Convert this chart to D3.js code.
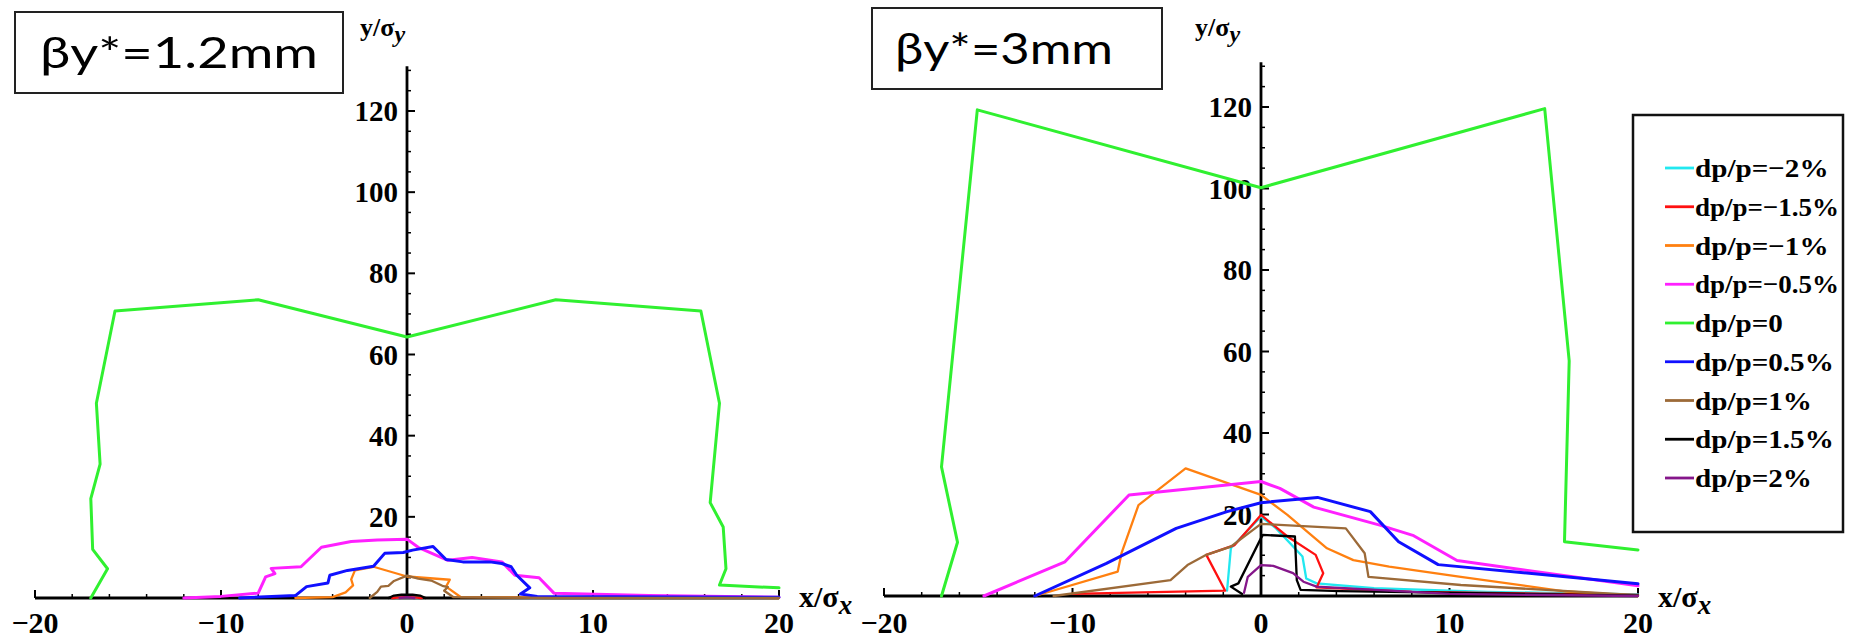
<!DOCTYPE html>
<html>
<head>
<meta charset="utf-8">
<script src="https://cdn.jsdelivr.net/npm/d3@7"></script>
<style>
  html, body { margin: 0; padding: 0; background: #fff; }
  svg { display: block; }
</style>
</head>
<body>
<svg id="chart" width="1852" height="643"></svg>
<script>
// ---------------- DATA ----------------
const xTickValues = [-20, -10, 0, 10, 20];
const yTickValues = [20, 40, 60, 80, 100, 120];
const seriesNames = ["dp/p=\u22122%", "dp/p=\u22121.5%", "dp/p=\u22121%", "dp/p=\u22120.5%", "dp/p=0",
                     "dp/p=0.5%", "dp/p=1%", "dp/p=1.5%", "dp/p=2%"];
const seriesColors = ["#22e8f0", "#ff1010", "#ff8010", "#ff20ff", "#30f030",
                      "#1010ff", "#9c6a38", "#000000", "#85168a"];
const panelTitles = ["\u03b2y*=1.2mm", "\u03b2y*=3mm"];

// Panel A : beta_y* = 1.2 mm   (points [x/sigma_x, y/sigma_y])
const a_m2 = [[-0.6, 0], [0, 0.2], [0.6, 0]];
const a_m15 = [[-0.8, 0], [0, 0.3], [0.8, 0]];
const a_m1 = [[-6, 0], [-4.0, 0.2], [-3.3, 1.4], [-2.9, 3.1], [-3.0, 4.6], [-2.8, 6.8], [-1.8, 7.7],
              [0, 5.3], [2.3, 4.5], [2.1, 2.8], [2.9, 0.2], [8, 0.1], [20, 0]];
const a_m05 = [[-12, 0], [-10, 0.4], [-8.0, 1.2], [-7.6, 5.2], [-7.1, 6.0], [-7.3, 7.3], [-5.7, 7.7],
               [-4.6, 12.5], [-3.0, 13.9], [-1.6, 14.3], [0, 14.5], [0.6, 12.5], [2.2, 9.3],
               [3.5, 10.0], [5.1, 8.9], [5.8, 5.6], [7.1, 5.0], [7.9, 1.2], [13, 0.6], [20, 0.2]];
const a_0 = [[-17.0, 0], [-16.1, 7.2], [-16.9, 12], [-17.0, 24.5], [-16.5, 33], [-16.7, 48],
             [-15.7, 70.7], [-8.0, 73.5], [0, 64.3], [8.0, 73.5], [15.8, 70.7], [16.8, 48],
             [16.3, 23.5], [17.0, 17.5], [17.15, 7.2], [16.8, 3.2], [20, 2.5]];
const a_p05 = [[-9, 0], [-6.0, 0.6], [-5.4, 2.8], [-4.25, 3.7], [-4.15, 5.6], [-3.2, 6.8], [-1.8, 7.8],
               [-1.2, 11.0], [-0.2, 11.2], [0.3, 11.8], [1.4, 12.7], [2.1, 9.5], [3.0, 8.9],
               [4.45, 8.9], [5.1, 8.5], [5.6, 7.7], [5.9, 5.6], [6.6, 2.5], [6.1, 1.0], [7, 0.4], [20, 0.2]];
const a_p1 = [[-2.0, 0], [-1.6, 1.5], [-1.4, 2.8], [-1.0, 3.0], [-0.7, 4.2], [0, 5.5], [0.6, 4.8],
              [1.3, 4.3], [1.9, 3.0], [2.2, 2.7], [2.0, 1.8], [2.5, 0.2], [8, 0], [20, 0]];
const a_p15 = [[-1.0, 0], [-0.7, 0.6], [-0.3, 0.8], [0.3, 0.8], [0.7, 0.6], [1.0, 0]];
const a_p2 = [[-0.4, 0], [0, 0.2], [0.4, 0]];

// Panel B : beta_y* = 3 mm
const b_m2 = [[-1.8, 1.3], [-1.6, 11.7], [0, 19.5], [0.8, 16.6], [2.2, 9.7], [2.4, 4.3], [2.95, 3.1],
              [6.0, 1.9], [12, 1.0], [20, 0.4]];
const b_m15 = [[-10, 0.5], [-1.9, 1.3], [-2.9, 10.1], [-1.4, 12.5], [0, 19.9], [1.4, 14.6], [2.9, 10.1],
               [3.3, 5.6], [2.95, 2.1], [8, 1.0], [20, 0.3]];
const b_m1 = [[-12, 0], [-7.6, 6.0], [-7.4, 10.5], [-6.5, 22.3], [-4.0, 31.3], [0, 24.8], [1.4, 19.9],
              [3.5, 11.7], [4.9, 8.8], [6.8, 7.2], [10.6, 4.7], [16.2, 1.1], [20, 0]];
const b_m05 = [[-14.7, 0], [-10.4, 8.4], [-7.0, 24.8], [0, 28.1], [1.0, 26.4], [2.8, 21.8], [6.3, 17.4],
               [8.1, 14.8], [10.4, 8.7], [20, 2.5]];
const b_0 = [[-16.95, 0], [-16.1, 13.2], [-16.95, 31.7], [-15.05, 119.3], [0, 100.2], [15.05, 119.6],
             [16.35, 57.7], [16.1, 13.3], [20, 11.3]];
const b_p05 = [[-12.0, 0], [-8.2, 8.0], [-4.5, 16.6], [-1.8, 20.7], [0, 22.9], [3.0, 24.2], [5.8, 20.7],
               [7.3, 13.3], [9.4, 7.7], [20, 3.0]];
const b_p1 = [[-11, 0], [-4.8, 3.9], [-3.9, 7.6], [-2.9, 10.1], [-1.6, 12.1], [0, 17.7], [4.5, 16.6],
              [5.5, 10.5], [5.7, 4.7], [10.6, 2.7], [20, 0.2]];
const b_p15 = [[-1.0, 0.5], [-1.6, 2.3], [-1.2, 3.1], [0, 14.2], [0.1, 15.0], [1.8, 14.6], [1.9, 3.9],
               [2.1, 1.5], [4.2, 1.2], [20, 0.1]];
const b_p2 = [[-0.9, 0.8], [-0.7, 4.7], [0, 7.6], [0.65, 7.4], [1.7, 5.6], [2.25, 3.5], [2.95, 2.3],
              [10, 0.5], [20, 0]];

const panelASeries = [a_m2, a_m15, a_m1, a_m05, a_0, a_p05, a_p1, a_p15, a_p2];
const panelBSeries = [b_m2, b_m15, b_m1, b_m05, b_0, b_p05, b_p1, b_p15, b_p2];

// ---------------- LAYOUT ----------------
const svg = d3.select("#chart");
const serif = "'Liberation Serif', 'DejaVu Serif', serif";
const yMax = 131;
const thick = [false, false, false, true, true, true, false, false, false];

const panels = [
  { series: panelASeries, x0: 35, x1: 779, yBase: 598, y120: 111,
    title: panelTitles[0], box: [15, 12, 328, 81], titleX: 40, titleW: 278, titleBase: 68,
    yLabX: 360 },
  { series: panelBSeries, x0: 884, x1: 1638, yBase: 596, y120: 107,
    title: panelTitles[1], box: [872, 8, 290, 81], titleX: 895, titleW: 218, titleBase: 64,
    yLabX: 1195 }
];

panels.forEach(p => {
  const x = d3.scaleLinear().domain([-20, 20]).range([p.x0, p.x1]);
  const y = d3.scaleLinear().domain([0, 120]).range([p.yBase, p.y120]);
  const g = svg.append("g");

  // x axis line and ticks
  g.append("line").attr("x1", x(-20)).attr("x2", x(20)).attr("y1", y(0)).attr("y2", y(0))
    .attr("stroke", "#000").attr("stroke-width", 2.8);
  d3.range(-20, 20.01, 2).forEach(v => {
    const major = v % 10 === 0;
    g.append("line").attr("x1", x(v)).attr("x2", x(v))
      .attr("y1", y(0)).attr("y2", y(0) - (major ? 8 : 4))
      .attr("stroke", "#000").attr("stroke-width", major ? 2 : 1.5);
  });
  xTickValues.forEach(v => {
    g.append("text").attr("x", x(v)).attr("y", 633)
      .attr("text-anchor", "middle")
      .attr("font-family", serif).attr("font-weight", "bold").attr("font-size", 30)
      .text(v < 0 ? "\u2212" + Math.abs(v) : String(v));
  });

  // y axis line and ticks
  g.append("line").attr("x1", x(0)).attr("x2", x(0)).attr("y1", y(0)).attr("y2", y(yMax))
    .attr("stroke", "#000").attr("stroke-width", 2.8);
  d3.range(5, yMax, 5).forEach(v => {
    const major = v % 20 === 0;
    g.append("line").attr("x1", x(0)).attr("x2", x(0) + (major ? 8 : 4))
      .attr("y1", y(v)).attr("y2", y(v))
      .attr("stroke", "#000").attr("stroke-width", major ? 2 : 1.5);
  });
  yTickValues.forEach(v => {
    g.append("text").attr("x", x(0) - 9).attr("y", y(v) + 10)
      .attr("text-anchor", "end")
      .attr("font-family", serif).attr("font-weight", "bold").attr("font-size", 29)
      .text(String(v));
  });

  // axis labels
  const yl = g.append("text").attr("x", p.yLabX).attr("y", 36)
    .attr("font-family", serif).attr("font-weight", "bold").attr("font-size", 26);
  yl.append("tspan").text("y/\u03c3");
  yl.append("tspan").attr("dy", 6).attr("font-size", 24).attr("font-style", "italic").text("y");

  const xl = g.append("text").attr("x", x(20) + 20).attr("y", 607)
    .attr("font-family", serif).attr("font-weight", "bold").attr("font-size", 30);
  xl.append("tspan").text("x/\u03c3");
  xl.append("tspan").attr("dy", 7).attr("font-size", 27).attr("font-style", "italic").text("x");

  // series lines
  const line = d3.line().x(d => x(d[0])).y(d => y(d[1]));
  p.series.forEach((s, i) => {
    g.append("path").datum(s).attr("d", line)
      .attr("fill", "none").attr("stroke", seriesColors[i])
      .attr("stroke-width", thick[i] ? 3 : 2.3)
      .attr("stroke-linejoin", "round").attr("stroke-linecap", "round");
  });

  // title box
  g.append("rect").attr("x", p.box[0]).attr("y", p.box[1]).attr("width", p.box[2]).attr("height", p.box[3])
    .attr("fill", "#fff").attr("stroke", "#222").attr("stroke-width", 2);
  g.append("text").attr("x", p.titleX).attr("y", p.titleBase)
    .attr("font-family", "Lato, 'Open Sans', sans-serif").attr("font-size", 43)
    .attr("textLength", p.titleW).attr("lengthAdjust", "spacingAndGlyphs")
    .text(p.title);
});

// ---------------- LEGEND ----------------
const lg = svg.append("g");
lg.append("rect").attr("x", 1633).attr("y", 115).attr("width", 210).attr("height", 417)
  .attr("fill", "#fff").attr("stroke", "#111").attr("stroke-width", 2.5);
const legY = d3.scalePoint().domain(seriesNames).range([168, 478]);
seriesNames.forEach((name, i) => {
  const cy = legY(name);
  lg.append("line").attr("x1", 1665).attr("x2", 1694).attr("y1", cy).attr("y2", cy)
    .attr("stroke", seriesColors[i]).attr("stroke-width", 2.8);
  const t = lg.append("text").attr("x", 1695).attr("y", cy + 9)
    .attr("font-family", serif).attr("font-weight", "bold").attr("font-size", 26)
    .text(name);
  const w = t.node().getComputedTextLength();
  t.attr("textLength", Math.min(w * 1.12, 144)).attr("lengthAdjust", "spacingAndGlyphs");
});
</script>
</body>
</html>
